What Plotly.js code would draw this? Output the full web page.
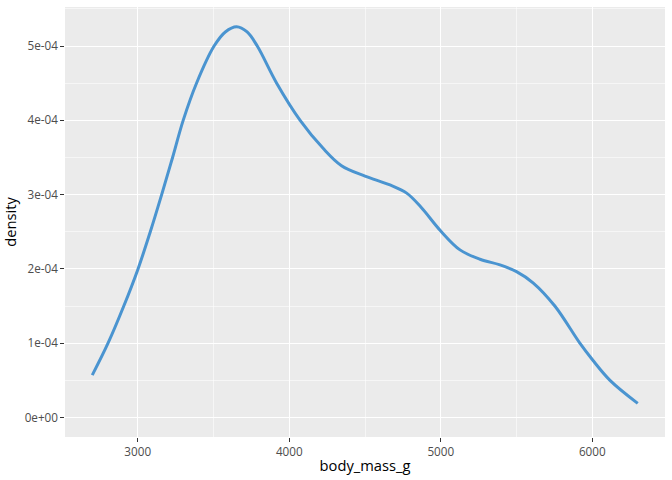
<!DOCTYPE html>
<html>
<head>
<meta charset="utf-8">
<script src="https://cdn.plot.ly/plotly-3.0.1.min.js"></script>
<style>html,body{margin:0;padding:0;background:#fff;}#chart{width:672px;height:480px;}</style>
</head>
<body>
<div id="chart"></div>
<script>
const bodyMass = [2700, 2804, 2908, 3002, 3083, 3158, 3230, 3300, 3388, 3504, 3578, 3653, 3722, 3789, 3917, 4072, 4225, 4345, 4500, 4665, 4775, 4870, 5000, 5127, 5259, 5391, 5500, 5611, 5753, 5918, 6000, 6117, 6300];
const density = [0.57e-4, 1.00e-4, 1.50e-4, 2.00e-4, 2.50e-4, 3.00e-4, 3.50e-4, 4.00e-4, 4.50e-4, 5.00e-4, 5.19e-4, 5.26e-4, 5.19e-4, 5.00e-4, 4.50e-4, 4.00e-4, 3.62e-4, 3.39e-4, 3.25e-4, 3.13e-4, 3.02e-4, 2.83e-4, 2.51e-4, 2.256e-4, 2.13e-4, 2.054e-4, 1.964e-4, 1.81e-4, 1.50e-4, 1.00e-4, 0.78e-4, 0.50e-4, 0.19e-4];
const xTickVals = [3000, 4000, 5000, 6000];
const xTickText = ['3000', '4000', '5000', '6000'];
const yTickVals = [0, 1e-4, 2e-4, 3e-4, 4e-4, 5e-4];
const yTickText = ['0e+00', '1e-04', '2e-04', '3e-04', '4e-04', '5e-04'];

const trace = {
  x: bodyMass, y: density, type: 'scatter', mode: 'lines',
  line: {color: '#4A94D0', width: 3, shape: 'spline', smoothing: 1, simplify: false},
  hoverinfo: 'skip'
};
const layout = {
  width: 672, height: 480,
  margin: {l: 65, r: 7, t: 7, b: 43},
  paper_bgcolor: '#FFFFFF', plot_bgcolor: '#EBEBEB',
  font: {family: '"Open Sans", "Noto Sans", sans-serif', color: '#4D4D4D'},
  showlegend: false,
  xaxis: {
    range: [2520, 6480], tickvals: xTickVals, ticktext: xTickText,
    showgrid: true, gridcolor: '#FFFFFF', gridwidth: 1.1, zeroline: false, showline: false,
    ticks: 'outside', ticklen: 3.7, tickwidth: 1.1, tickcolor: '#333333',
    tickfont: {size: 11.7, color: '#4D4D4D'},
    minor: {dtick: 500, tick0: 0, showgrid: true, gridcolor: '#FFFFFF', gridwidth: 0.55, ticks: ''},
    title: {text: 'body_mass_g', font: {size: 14.7, color: '#000000'}, standoff: 2},
    automargin: false
  },
  yaxis: {
    range: [-0.263e-4, 5.526e-4], tickvals: yTickVals, ticktext: yTickText,
    showgrid: true, gridcolor: '#FFFFFF', gridwidth: 1.1, zeroline: false, showline: false,
    ticks: 'outside', ticklen: 3.7, tickwidth: 1.1, tickcolor: '#333333',
    tickfont: {size: 11.7, color: '#4D4D4D'},
    minor: {dtick: 0.5e-4, tick0: 0, showgrid: true, gridcolor: '#FFFFFF', gridwidth: 0.55, ticks: ''},
    title: {text: 'density', font: {size: 14.7, color: '#000000'}, standoff: 4},
    automargin: false
  }
};
Plotly.newPlot('chart', [trace], layout, {staticPlot: true, displayModeBar: false});
</script>
</body>
</html>
